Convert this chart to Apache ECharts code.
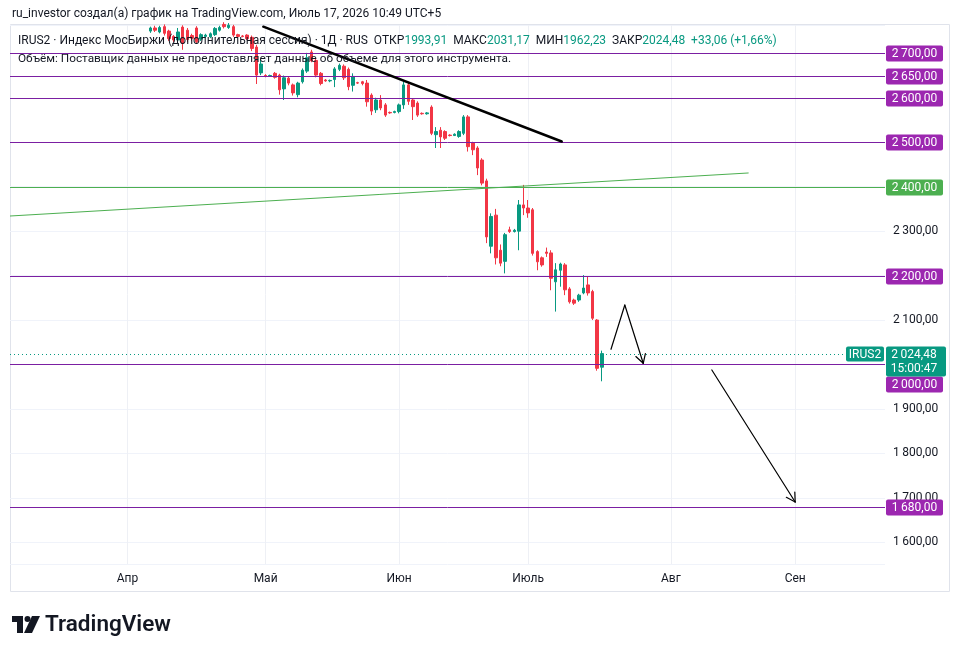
<!DOCTYPE html>
<html>
<head>
<meta charset="utf-8">
<script src="https://cdn.jsdelivr.net/npm/echarts/dist/echarts.min.js"></script>
<style>
html,body{margin:0;padding:0;background:#ffffff;}
#chart{width:961px;height:654px;}
</style>
</head>
<body>
<div id="chart"></div>
<script>
// ---------------- DATA ----------------
const barCount = 190;            // bars across the time scale (incl. future space)
const firstBar = 30;             // index of first visible candle
const monthLabels = ['Апр', 'Май', 'Июн', 'Июль', 'Авг', 'Сен'];
const monthIndex  = [25, 55, 84, 112, 143, 170];

const opens = [2750,2757,2748,2760,2750,2738,2730,2759,2752,2740,2757,2732,2738,2737,2742,2752,2765,2758,2760,2742,2739,2741,2736,2714,2656,2650,2649,2655,2651,2620,2644,2629,2607,2636,2660,2703,2684,2655,2640,2638,2641,2664,2671,2664,2628,2634,2636,2633,2606,2573,2595,2584,2567,2567,2569,2584,2629,2595,2588,2565,2564,2579,2517,2527,2524,2516,2515,2513,2520,2557,2498,2487,2460,2413,2266,2336,2257,2232,2303,2299,2300,2359,2352,2348,2254,2240,2253,2251,2186,2212,2224,2170,2145,2145,2161,2179,2164,2100,1993.91];
const closes = [2757,2752,2758,2745,2733,2730,2748,2722,2731,2734,2726,2742,2741,2744,2756,2758,2760,2763,2741,2738,2738,2733,2711,2651,2676,2649,2650,2646,2618,2645,2633,2611,2633,2662,2690,2683,2651,2632,2638,2639,2665,2673,2645,2625,2648,2633,2632,2591,2570,2595,2577,2561,2566,2569,2584,2629,2592,2580,2561,2564,2566,2520,2524,2512,2509,2515,2518,2524,2557,2490,2483,2442,2408,2287,2333,2240,2228,2292,2299,2302,2359,2352,2341,2250,2231,2224,2250,2194,2213,2226,2168,2141,2138,2156,2172,2161,2104,1991.42,2024.48];
const lows   = [2746,2748,2745,2740,2728,2725,2726,2708,2725,2728,2721,2728,2735,2734,2739,2749,2756,2755,2737,2736,2736,2730,2705,2631,2651,2646,2647,2643,2607,2595,2628,2605,2601,2632,2656,2680,2646,2628,2636,2635,2624,2660,2640,2617,2614,2631,2628,2580,2561,2566,2572,2557,2564,2565,2565,2575,2584,2550,2557,2562,2562,2516,2487,2487,2505,2513,2514,2510,2516,2479,2471,2426,2403,2273,2250,2225,2221,2205,2296,2297,2257,2336,2330,2245,2212,2220,2242,2167,2119,2175,2156,2137,2134,2141,2158,2155,2100,1986,1962.23];
const highs  = [2760,2762,2762,2765,2753,2741,2757,2763,2757,2744,2761,2745,2744,2747,2759,2762,2770,2768,2764,2744,2741,2743,2740,2719,2685,2653,2652,2658,2654,2650,2648,2632,2636,2666,2701,2708,2688,2658,2642,2641,2669,2677,2675,2668,2655,2636,2638,2640,2610,2600,2606,2588,2569,2571,2587,2636,2636,2599,2592,2567,2568,2583,2534,2534,2527,2518,2520,2527,2561,2561,2501,2491,2464,2418,2340,2350,2270,2296,2310,2305,2370,2404,2370,2352,2257,2243,2263,2257,2228,2229,2228,2174,2148,2159,2201,2197,2168,2102,2031.17];

// horizontal levels drawn on the chart
const levelPrices = [2700, 2650, 2600, 2500, 2400, 2200, 2000, 1680];
const levelKinds  = ['purple','purple','purple','purple','green','purple','purple','purple'];

// drawn lines: [barIndex1, price1, barIndex2, price2]
const drawSegments = [
  [54.5, 2759.9, 119.3, 2501.6],
  [-0.5, 2334.0, 159.8, 2430.8],
  [130.0, 2034.2, 133.0, 2133.8],
  [133.0, 2133.8, 137.0, 2002.7],
  [151.9, 1987.6, 170.0, 1690.7]
];
const drawKinds = ['trend', 'support', 'plain', 'arrow', 'arrow'];

const symbolName = 'IRUS2';
const countdown = '15:00:47';
const titleLine1 = 'ru_investor создал(а) график на TradingView.com, Июль 17, 2026 10:49 UTC+5';
const titleLine2 = 'IRUS2 · Индекс МосБиржи (дополнительная сессия) · 1Д · RUS';
const titleLine3 = 'Объём: Поставщик данных не предоставляет данные об объеме для этого инструмента.';

// ---------------- HELPERS ----------------
const UP = '#089981', DOWN = '#F23645', TXT = '#131722';
const FONT = 'Roboto, "Noto Sans", sans-serif';
const levelBox  = { purple: '#9c27b0', green: '#4caf50' };
const levelLine = { purple: '#7b1fa2', green: '#4caf50' };
const levelShift = { 2000: 20 };

function fmtAxis(v) {
  const s = v.toFixed(2).split('.');
  return s[0].replace(/\B(?=(\d{3})+(?!\d))/g, '\u2009') + ',' + s[1];
}
function fmtPlain(v) { return v.toFixed(2).replace('.', ','); }

const categories = Array.from({ length: barCount }, (_, i) => String(i));
const candleData = opens.map((o, k) => [firstBar + k, o, closes[k], lows[k], highs[k]]);

const lastK = opens.length - 1;
const lastO = opens[lastK], lastC = closes[lastK], lastH = highs[lastK], lastL = lows[lastK];
const prevC = closes[lastK - 1];
const chg = lastC - prevC;
const chgPct = chg / prevC * 100;
const lastIndex = firstBar + lastK;

// ---------------- CHART ----------------
const chart = echarts.init(document.getElementById('chart'), null, { renderer: 'canvas' });

const option = {
  animation: false,
  backgroundColor: '#ffffff',
  textStyle: { fontFamily: FONT },
  grid: { left: 10, right: 76, top: 25, bottom: 90, containLabel: false },
  xAxis: [
    {
      type: 'category',
      data: categories,
      boundaryGap: true,
      axisLine: { show: false },
      axisTick: { show: false },
      splitLine: { show: false },
      axisLabel: {
        color: TXT, fontSize: 12, fontFamily: FONT, margin: 9,
        interval: (idx) => monthIndex.indexOf(idx) >= 0,
        formatter: (val) => {
          const k = monthIndex.indexOf(Number(val));
          return k >= 0 ? monthLabels[k] : '';
        }
      }
    },
    { type: 'value', min: -0.5, max: barCount - 0.5, show: false, splitLine: { show: false } }
  ],
  yAxis: {
    type: 'value',
    position: 'right',
    min: 1551.2,
    max: 2763.7,
    splitNumber: 12,
    scale: true,
    axisLine: { show: false },
    axisTick: { show: false },
    splitLine: { show: true, lineStyle: { color: '#f0f3fa', width: 1 } },
    axisLabel: {
      color: TXT, fontSize: 12, fontFamily: FONT, margin: 8,
      showMinLabel: false, showMaxLabel: false,
      formatter: (v) => (Math.abs(v % 100) < 1e-6 ? fmtAxis(v) : '')
    }
  },
  series: [
    {
      type: 'candlestick',
      xAxisIndex: 0,
      yAxisIndex: 0,
      data: candleData,
      encode: { x: 0, y: [1, 2, 3, 4] },
      barWidth: 3,
      clip: true,
      z: 2,
      itemStyle: { color: UP, color0: DOWN, borderColor: UP, borderColor0: DOWN, borderWidth: 1 },
      markLine: {
        silent: true,
        symbol: 'none',
        label: { show: false },
        lineStyle: { color: '#eef0f5', width: 1, type: 'solid' },
        data: monthIndex.map(i => ({ xAxis: String(i) })),
        z: 1
      }
    },
    {
      // horizontal levels with price-scale labels
      type: 'custom',
      xAxisIndex: 1,
      yAxisIndex: 0,
      z: 4,
      clip: false,
      silent: true,
      data: levelPrices.map(p => [0, p]),
      encode: { x: 0, y: 1 },
      renderItem: (params, api) => {
        const cs = params.coordSys;
        const price = api.value(1);
        const y = Math.round(api.coord([0, price])[1]) + 0.5;
        const kind = levelKinds[params.dataIndex];
        const shift = levelShift[price] || 0;
        const bx = cs.x + cs.width + 1;
        return {
          type: 'group',
          children: [
            { type: 'line', shape: { x1: cs.x, y1: y, x2: cs.x + cs.width, y2: y }, style: { stroke: levelLine[kind], lineWidth: 1 } },
            { type: 'rect', shape: { x: bx, y: y - 8 + shift, width: 57, height: 16, r: 2 }, style: { fill: levelBox[kind] } },
            { type: 'text', x: bx + 28.5, y: y + shift + 0.5,
              style: { text: fmtAxis(price), fill: '#ffffff', font: '12px ' + FONT, align: 'center', verticalAlign: 'middle' } }
          ]
        };
      }
    },
    {
      // trend lines & arrows
      type: 'custom',
      xAxisIndex: 1,
      yAxisIndex: 0,
      z: 5,
      clip: true,
      silent: true,
      data: drawSegments,
      encode: { x: [0, 2], y: [1, 3] },
      renderItem: (params, api) => {
        const kind = drawKinds[params.dataIndex];
        const p1 = api.coord([api.value(0), api.value(1)]);
        const p2 = api.coord([api.value(2), api.value(3)]);
        let stroke = '#000000', lw = 1.2;
        if (kind === 'trend') { lw = 2.5; }
        if (kind === 'support') { stroke = '#4caf50'; lw = 1; }
        const children = [
          { type: 'line', shape: { x1: p1[0], y1: p1[1], x2: p2[0], y2: p2[1] }, style: { stroke, lineWidth: lw, lineCap: 'round' } }
        ];
        if (kind === 'arrow') {
          const ang = Math.atan2(p2[1] - p1[1], p2[0] - p1[0]);
          const L = 10, a = Math.PI / 6;
          [ang + Math.PI - a, ang + Math.PI + a].forEach(t => {
            children.push({ type: 'line',
              shape: { x1: p2[0], y1: p2[1], x2: p2[0] + L * Math.cos(t), y2: p2[1] + L * Math.sin(t) },
              style: { stroke, lineWidth: lw, lineCap: 'round' } });
          });
        }
        return { type: 'group', children };
      }
    },
    {
      // last price line and labels
      type: 'custom',
      xAxisIndex: 1,
      yAxisIndex: 0,
      z: 6,
      clip: false,
      silent: true,
      data: [[lastIndex, lastC]],
      encode: { x: 0, y: 1 },
      renderItem: (params, api) => {
        const cs = params.coordSys;
        const y = Math.round(api.coord([0, api.value(1)])[1]) + 0.5;
        const right = cs.x + cs.width;
        return {
          type: 'group',
          children: [
            { type: 'line', shape: { x1: cs.x, y1: y, x2: right - 42, y2: y }, style: { stroke: UP, lineWidth: 1, lineDash: [1, 3] } },
            { type: 'rect', shape: { x: right - 39, y: y - 8, width: 38, height: 15, r: 2 }, style: { fill: UP } },
            { type: 'text', x: right - 20, y: y, style: { text: symbolName, fill: '#fff', font: '12px ' + FONT, align: 'center', verticalAlign: 'middle' } },
            { type: 'rect', shape: { x: right + 1, y: y - 8, width: 60, height: 30, r: 2 }, style: { fill: UP } },
            { type: 'text', x: right + 29, y: y + 0.5, style: { text: fmtAxis(api.value(1)), fill: '#fff', font: '12px ' + FONT, align: 'center', verticalAlign: 'middle' } },
            { type: 'text', x: right + 29, y: y + 14, style: { text: countdown, fill: '#fff', font: '12px ' + FONT, align: 'center', verticalAlign: 'middle' } }
          ]
        };
      }
    }
  ],
  graphic: [
    { type: 'rect', silent: true, z: 0, shape: { x: 10.5, y: 24.5, width: 939, height: 567 }, style: { fill: 'none', stroke: '#e0e3eb', lineWidth: 1 } },
    { type: 'text', x: 12, y: 14, z: 10, style: { text: titleLine1, fill: TXT, font: '12px ' + FONT, verticalAlign: 'middle' } },
    { type: 'text', x: 18, y: 41, z: 10, style: {
        text: '{t|' + titleLine2 + '}{t|  ОТКР}{v|' + fmtPlain(lastO) + '}{t|  МАКС}{v|' + fmtPlain(lastH) + '}{t|  МИН}{v|' + fmtPlain(lastL) + '}{t|  ЗАКР}{v|' + fmtPlain(lastC) + '}{v|  ' + (chg >= 0 ? '+' : '') + fmtPlain(chg) + ' (' + (chg >= 0 ? '+' : '') + fmtPlain(chgPct) + '%)}',
        verticalAlign: 'middle',
        rich: {
          t: { fill: TXT, font: '12px ' + FONT },
          v: { fill: UP, font: '12px ' + FONT }
        }
      } },
    { type: 'text', x: 18, y: 59, z: 10, style: { text: titleLine3, fill: TXT, font: '11.8px ' + FONT, verticalAlign: 'middle' } },
    // TradingView logo
    { type: 'group', x: 12, y: 616, z: 10, silent: true, children: [
      { type: 'rect', shape: { x: 0, y: 0, width: 11, height: 6 }, style: { fill: TXT } },
      { type: 'rect', shape: { x: 5, y: 0, width: 6, height: 17 }, style: { fill: TXT } },
      { type: 'circle', shape: { cx: 15.5, cy: 3, r: 3 }, style: { fill: TXT } },
      { type: 'polygon', shape: { points: [[20, 0], [28, 0], [20, 17], [12, 17]] }, style: { fill: TXT } }
    ] },
    { type: 'text', x: 45, y: 625, z: 10, style: { text: 'TradingView', fill: TXT, font: '600 22.5px ' + FONT, verticalAlign: 'middle' } }
  ]
};

chart.setOption(option);
</script>
</body>
</html>
